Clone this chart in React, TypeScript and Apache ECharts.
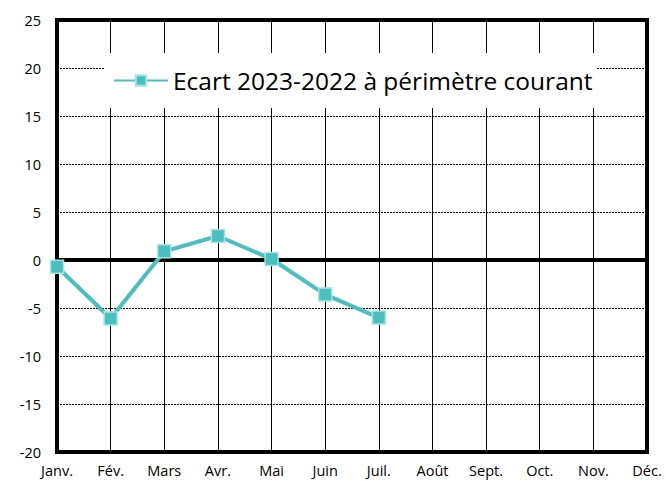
import React, { useEffect, useRef } from "react";
import * as echarts from "echarts";

const months = ["Janv.", "Fév.", "Mars", "Avr.", "Mai", "Juin", "Juil.", "Août", "Sept.", "Oct.", "Nov.", "Déc."];
const ecart = [-0.7, -6.1, 0.9, 2.5, 0.1, -3.6, -6.0, null, null, null, null, null];
const seriesName = "Ecart 2023-2022 à périmètre courant";
const yMin = -20;
const yMax = 25;
const yStep = 5;

const FONT = "'Open Sans', 'DejaVu Sans', sans-serif";
const TEAL = "#4bbfbf";

export default function App() {
  const ref = useRef<HTMLDivElement>(null);
  useEffect(() => {
    if (!ref.current) return;
    const chart = echarts.init(ref.current, undefined, { renderer: "svg" });
    chart.setOption({
      animation: false,
      backgroundColor: "#ffffff",
      textStyle: { fontFamily: FONT },
      grid: {
        left: 57,
        right: 19,
        top: 20,
        bottom: 29,
        show: true,
        borderColor: "#000",
        borderWidth: 4,
        backgroundColor: "transparent",
        containLabel: false,
      },
      legend: {
        show: true,
        data: [seriesName],
        left: 104,
        top: 53,
        padding: [15, 4, 15, 9],
        backgroundColor: "#ffffff",
        itemWidth: 54,
        itemHeight: 13,
        textStyle: { fontSize: 24.5, color: "#000", fontFamily: FONT },
        z: 10,
      },
      xAxis: {
        type: "category",
        data: months,
        boundaryGap: false,
        axisLine: { show: false },
        axisTick: { show: false },
        axisLabel: { color: "#000", fontSize: 14.5, margin: 11, interval: 0, fontFamily: FONT },
        splitLine: { show: true, interval: 0, lineStyle: { color: "#000", width: 1, type: "solid" } },
      },
      yAxis: {
        type: "value",
        min: yMin,
        max: yMax,
        interval: yStep,
        axisLine: { show: false },
        axisTick: { show: false },
        axisLabel: { color: "#000", fontSize: 14.5, margin: 16, fontFamily: FONT },
        splitLine: { show: true, lineStyle: { color: "#000", width: 1, type: [2, 1] } },
      },
      series: [
        {
          name: "zero",
          type: "line",
          data: months.map(() => null),
          z: 1,
          silent: true,
          symbol: "none",
          markLine: {
            silent: true,
            symbol: "none",
            label: { show: false },
            lineStyle: { color: "#000", width: 4, type: "solid" },
            data: [{ yAxis: 0 }],
          },
        },
        {
          name: seriesName,
          type: "line",
          data: ecart,
          z: 5,
          symbol: "rect",
          symbolSize: 13,
          lineStyle: { color: TEAL, width: 4 },
          itemStyle: { color: TEAL, borderColor: "#a6e3e3", borderWidth: 1.5 },
        },
      ],
    });
    return () => chart.dispose();
  }, []);
  return (
    <div
      ref={ref}
      style={{ position: "absolute", left: 0, top: 0, width: 666, height: 481 }}
    />
  );
}
